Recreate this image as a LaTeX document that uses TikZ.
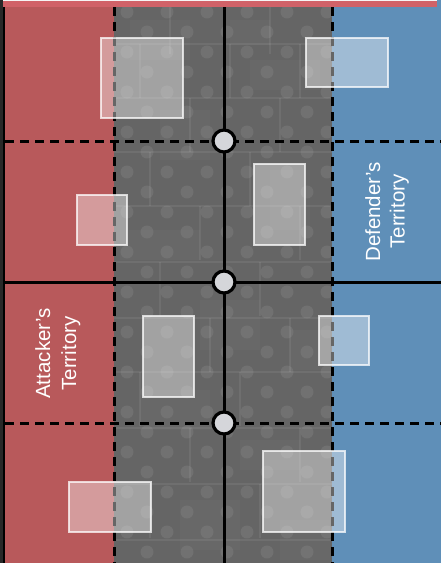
\documentclass[tikz,border=0pt]{standalone}
\usepackage{fontspec}
\newfontfamily\labelfont{Liberation Sans}
\definecolor{attackred}{RGB}{184,89,91}
\definecolor{defendblue}{RGB}{95,143,184}
\definecolor{wallgray}{RGB}{101,101,101}
\definecolor{topbar}{RGB}{208,98,104}
\definecolor{edgegray}{RGB}{40,40,40}
\definecolor{knob}{RGB}{213,214,218}
\tikzset{
  zoneline/.style={line width=3pt, black},
  zonedash/.style={line width=3pt, black, dash pattern=on 8.5pt off 6.5pt},
  tile/.style={draw=white, draw opacity=0.75, fill=white, fill opacity=0.4,
    line width=2pt, inner sep=0pt, rectangle},
  junction/.style={circle, draw=black, fill=knob, line width=3.2pt,
    minimum size=22pt, inner sep=0pt},
  territory/.style={font=\labelfont\fontsize{20.5}{24}\selectfont, text=white,
    rotate=90, anchor=base, inner sep=0pt},
  speck/.style={fill=white, fill opacity=0.08},
  seam/.style={draw=white, draw opacity=0.07, line width=2pt},
  patch/.style={fill=white, fill opacity=0.025},
}
\begin{document}
\begin{tikzpicture}[x=1pt,y=-1pt]
\useasboundingbox (0,0) rectangle (441,563);

% territories
\fill[edgegray] (0,0) rectangle (5,563);
\fill[attackred] (5,0) rectangle (114,563);
\fill[wallgray] (114,0) rectangle (332,563);
\fill[defendblue] (332,0) rectangle (441,563);

% wall texture: stone patches, seams and specks
\begin{scope}
  \clip (114,0) rectangle (332,563);
  \foreach \x/\y/\w/\h in {130/20/60/40,250/60/70/30,160/110/50/50,270/170/40/60,
                           120/230/80/30,200/300/60/50,290/330/40/40,140/390/70/40,
                           240/440/60/30,180/500/60/50,280/520/50/40,230/20/40/25}
    \fill[patch] (\x,\y) rectangle ++(\w,\h);
  \foreach \y in {44,98,152,206,262,318,372,428,484,540}
    \draw[seam] (114,\y) -- (332,\y);
  \foreach \y/\x in {0/170,0/270,44/140,44/230,44/300,98/190,98/280,152/150,152/250,
                     206/200,206/300,262/160,262/260,318/210,318/290,372/140,372/240,
                     428/190,428/300,484/150,484/260}
    \draw[seam] (\x,\y) -- (\x,\y+54);
  \foreach \r in {0,...,28}{
    \pgfmathsetmacro{\off}{mod(\r,2)*20}
    \foreach \c in {0,...,6}
      \fill[speck] (127+\c*40+\off,12+\r*20) circle (6.5pt);
  }
\end{scope}

% left edge and top bar
\draw[line width=1.6pt, black] (4.2,7) -- (4.2,563);
\fill[white!92!gray] (3,0) rectangle (437,1.3);
\fill[topbar] (3,1.3) rectangle (437,7);

% grid lines
\coordinate (ctop) at (224,7);
\coordinate (cbot) at (224,563);
\coordinate (l1) at (5,141);   \coordinate (r1) at (441,141);
\coordinate (l2) at (5,282);   \coordinate (r2) at (441,282);
\coordinate (l3) at (5,423);   \coordinate (r3) at (441,423);
\coordinate (wlt) at (114,7);  \coordinate (wlb) at (114,563);
\coordinate (wrt) at (332,7);  \coordinate (wrb) at (332,563);

\draw[zonedash] (wlt) -- (wlb);
\draw[zonedash] (wrt) -- (wrb);
\draw[zonedash] (l1) -- (r1);
\draw[zoneline] (l2) -- (r2);
\draw[zonedash] (l3) -- (r3);
\draw[zoneline] (ctop) -- (cbot);

% pieces
\node[tile, minimum width=82pt, minimum height=80pt] (p1) at (142,78) {};
\node[tile, minimum width=82pt, minimum height=49pt] (p2) at (347,62.5) {};
\node[tile, minimum width=50pt, minimum height=50pt] (p3) at (102,220) {};
\node[tile, minimum width=51pt, minimum height=81pt] (p4) at (279.5,204.5) {};
\node[tile, minimum width=51pt, minimum height=81pt] (p5) at (168.5,356) {};
\node[tile, minimum width=50pt, minimum height=49pt] (p6) at (344,340.5) {};
\node[tile, minimum width=82pt, minimum height=50pt] (p7) at (110,507) {};
\node[tile, minimum width=82pt, minimum height=81pt] (p8) at (304,491.5) {};

% junctions on the centre line
\node[junction] (j1) at (224,141) {};
\node[junction] (j2) at (224,282) {};
\node[junction] (j3) at (224,423) {};

% territory labels
\node[territory] (att1) at (50,353.5) {Attacker’s};
\node[territory] (att2) at (76,353.5) {Territory};
\node[territory] (def1) at (380,212) {Defender’s};
\node[territory] (def2) at (404.5,211.5) {Territory};
\end{tikzpicture}
\end{document}
